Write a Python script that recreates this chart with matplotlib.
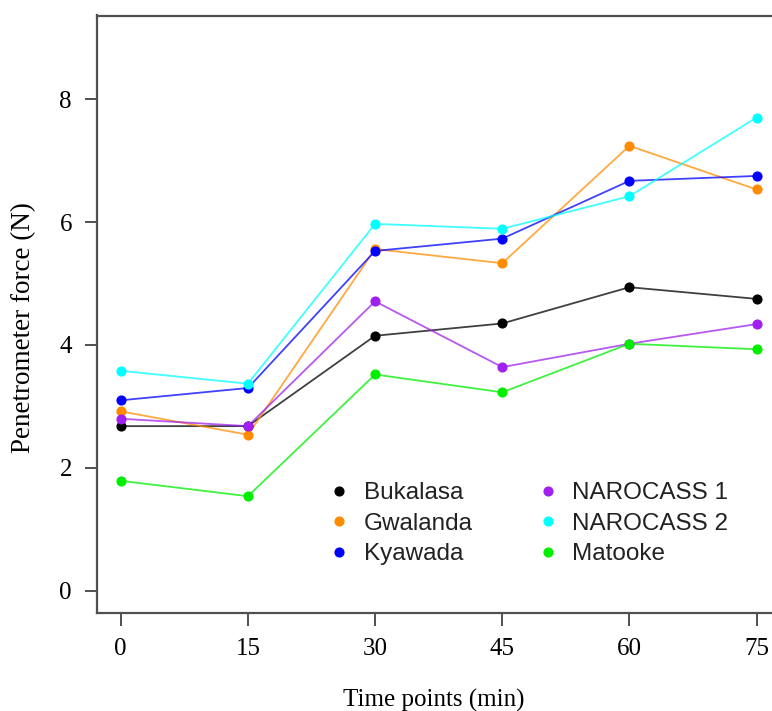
import matplotlib
matplotlib.use("Agg")
import matplotlib.pyplot as plt
from matplotlib.lines import Line2D

time_points = [0, 15, 30, 45, 60, 75]
bukalasa = [2.68, 2.68, 4.15, 4.35, 4.94, 4.75]
gwalanda = [2.92, 2.54, 5.56, 5.33, 7.24, 6.53]
kyawada = [3.10, 3.30, 5.53, 5.73, 6.67, 6.75]
narocass1 = [2.80, 2.68, 4.71, 3.64, 4.02, 4.34]
narocass2 = [3.58, 3.37, 5.97, 5.89, 6.42, 7.70]
matooke = [1.79, 1.54, 3.52, 3.23, 4.02, 3.93]

names = ["Bukalasa", "Gwalanda", "Kyawada", "NAROCASS 1", "NAROCASS 2", "Matooke"]
series = [bukalasa, gwalanda, kyawada, narocass1, narocass2, matooke]
colors = ["#000000", "#FF8C00", "#0000FF", "#A020F0", "#00FFFF", "#00EE00"]

x_ticks = [0, 15, 30, 45, 60, 75]
y_ticks = [0, 2, 4, 6, 8]

W, H = 772, 711
fig = plt.figure(figsize=(W / 100, H / 100), dpi=100)
left_px, right_px, top_px, bottom_px = 97, 782, 15.5, 613
ax = fig.add_axes([left_px / W, (H - bottom_px) / H,
                   (right_px - left_px) / W, (bottom_px - top_px) / H])

for vals, c in zip(series, colors):
    ax.plot(time_points, vals, color=c, lw=1.3, alpha=0.75, zorder=2)
    ax.plot(time_points, vals, color=c, lw=0, marker="o", ms=6.3, zorder=3)

ax.set_xlim(-2.8, 78)
ax.set_ylim(-0.36, 9.36)
ax.set_xticks(x_ticks)
ax.set_yticks(y_ticks)

serif = "Liberation Serif"
ax.set_xticklabels([str(v) for v in x_ticks], fontfamily=serif, fontsize=18)
ax.set_yticklabels([str(v) for v in y_ticks], fontfamily=serif, fontsize=18)
ax.tick_params(axis="both", direction="out", length=9, width=1.4, color="#505050")
ax.tick_params(axis="x", pad=9)
ax.tick_params(axis="y", pad=9)

for s in ["left", "bottom", "top"]:
    ax.spines[s].set_color("#505050")
    ax.spines[s].set_linewidth(1.6)
ax.spines["right"].set_visible(False)

ax.set_xlabel("Time points (min)", fontfamily=serif, fontsize=18)
ax.xaxis.label.set_va("center")
ax.xaxis.set_label_coords((433.5 - left_px) / (right_px - left_px),
                          (bottom_px - 700) / (bottom_px - top_px))
ax.set_ylabel("Penetrometer force (N)", fontfamily=serif, fontsize=19.5)
ax.yaxis.label.set_va("center")
ax.yaxis.set_label_coords((24 - left_px) / (right_px - left_px),
                          (bottom_px - 327.5) / (bottom_px - top_px))

handles = [Line2D([], [], color=c, lw=0, marker="o", ms=6.3) for c in colors]
leg = ax.legend(handles, names, ncol=2, frameon=False,
                prop={"family": "Liberation Sans", "size": 17.5},
                handlelength=0.6, handletextpad=0.7, columnspacing=2.8,
                labelspacing=0.35, borderpad=0, borderaxespad=0,
                loc="upper left",
                bbox_to_anchor=(332 / W, (H - 482) / H),
                bbox_transform=fig.transFigure)
for t in leg.get_texts():
    t.set_color("#222222")

fig.savefig("out.png", dpi=100)
